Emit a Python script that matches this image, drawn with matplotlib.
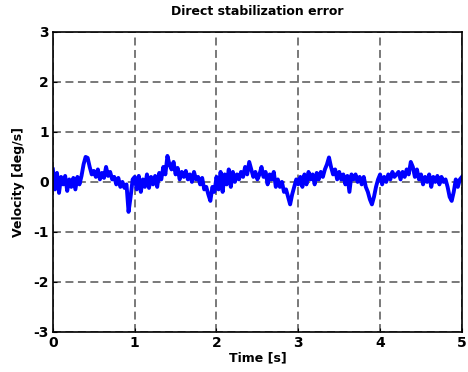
import numpy as np
import matplotlib.pyplot as plt

plt.rcParams['axes.unicode_minus'] = False

# velocity error, one value every 0.025 s
t = np.arange(201) * 0.025
vel = [
    0.25, -0.15, 0.18, -0.22, 0.10, -0.05, 0.12, -0.18, 0.05, -0.10,
    0.08, -0.15, 0.10, -0.05, 0.12, 0.35, 0.50, 0.48, 0.30, 0.15,
    0.22, 0.10, 0.25, 0.05, 0.18, 0.08, 0.30, 0.12, 0.20, 0.05,
    0.10, -0.05, 0.08, -0.10, 0.00, -0.12, -0.05, -0.60, -0.30, 0.05,
    0.10, -0.15, 0.12, -0.20, 0.05, -0.10, 0.15, -0.12, 0.10, -0.05,
    0.12, -0.10, 0.18, 0.05, 0.30, 0.15, 0.52, 0.35, 0.25, 0.40,
    0.15, 0.28, 0.05, 0.20, 0.10, 0.22, 0.05, 0.15, 0.00, 0.20,
    0.05, 0.10, -0.05, 0.08, -0.15, -0.10, -0.25, -0.38, -0.10, -0.20,
    0.10, -0.15, 0.20, -0.20, 0.15, -0.05, 0.25, -0.10, 0.20, 0.00,
    0.15, 0.05, 0.20, 0.10, 0.30, 0.15, 0.40, 0.25, 0.10, 0.20,
    0.05, 0.15, 0.30, 0.10, 0.20, -0.05, 0.15, 0.05, 0.20, -0.10,
    0.05, -0.10, 0.00, -0.20, -0.15, -0.30, -0.45, -0.25, -0.10, 0.05,
    -0.05, 0.10, -0.10, 0.15, -0.05, 0.20, 0.05, 0.15, -0.05, 0.18,
    0.05, 0.20, 0.10, 0.25, 0.35, 0.49, 0.30, 0.15, 0.25, 0.05,
    0.20, 0.05, 0.15, -0.05, 0.12, -0.20, 0.15, 0.05, 0.15, 0.00,
    0.10, -0.05, 0.10, -0.10, -0.20, -0.35, -0.45, -0.30, -0.10, 0.05,
    0.15, -0.05, 0.10, 0.00, 0.15, 0.05, 0.20, 0.10, 0.15, 0.20,
    0.05, 0.20, 0.10, 0.25, 0.15, 0.40, 0.30, 0.10, 0.25, 0.05,
    0.15, -0.05, 0.10, 0.00, 0.15, -0.10, 0.10, 0.00, 0.12, -0.05,
    0.10, 0.00, 0.05, -0.10, -0.30, -0.38, -0.20, 0.05, -0.10, 0.05,
    0.10,
]
xticks = [0, 1, 2, 3, 4, 5]
yticks = [-3, -2, -1, 0, 1, 2, 3]

fig = plt.figure(figsize=(4.68, 3.72), dpi=100)
ax = fig.add_axes([0.113, 0.108, 0.874, 0.806])
ax.plot(t, vel, color='#0000ff', linewidth=2.8)
ax.set_xlim(0, 5)
ax.set_ylim(-3, 3)
ax.set_xticks(xticks)
ax.set_yticks(yticks)
ax.grid(True, color='#6e6e6e', linestyle=(0, (4.4, 2.5)), linewidth=1.3)
ax.set_axisbelow(True)
ax.tick_params(direction='in', length=3, labelsize=10, pad=3)
for lab in ax.get_xticklabels() + ax.get_yticklabels():
    lab.set_fontweight('bold')
for s in ax.spines.values():
    s.set_linewidth(1.2)
ax.set_title('Direct stabilization error', fontsize=9, fontweight='bold', pad=12)
ax.set_xlabel('Time [s]', fontsize=9, fontweight='bold', labelpad=1)
ax.set_ylabel('Velocity [deg/s]', fontsize=9, fontweight='bold', labelpad=6)
fig.savefig('out.png', dpi=100)
